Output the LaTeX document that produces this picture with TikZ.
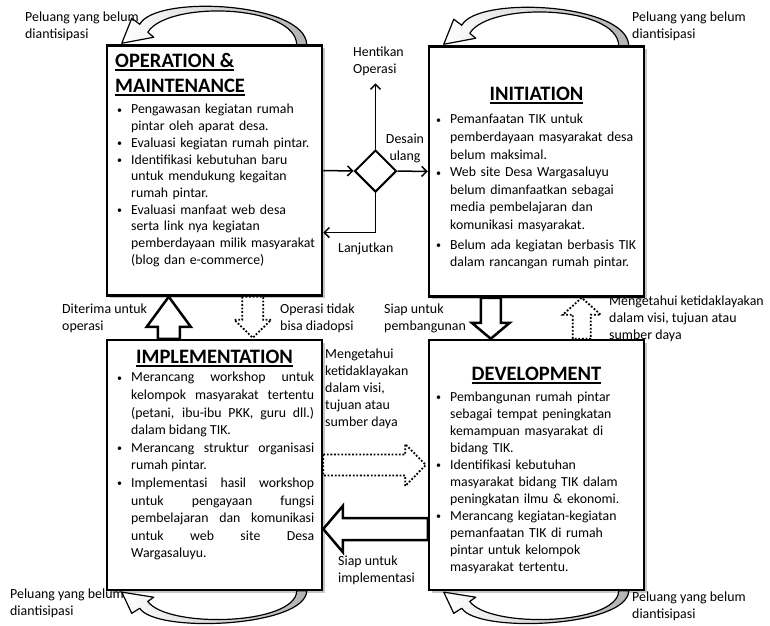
\documentclass[tikz,border=0pt]{standalone}
\usepackage{fontspec}
\setmainfont{Carlito}
\usetikzlibrary{shapes.geometric,shadows,calc,arrows.meta,positioning}

% bullet item with hanging indent
\newcommand{\bul}{\par\noindent\hangindent=14pt\hangafter=1\makebox[14pt][l]{\raisebox{0.6pt}{\fontsize{10}{10}\selectfont\textbullet}}}
% underlined phase title
\newcommand{\titleline}[1]{\begingroup\setbox0=\hbox{#1}\rlap{\rule[-3.5pt]{\wd0}{1.5pt}}\box0\endgroup}

\begin{document}
\begin{tikzpicture}[x=1pt, y=-1pt,
    phase/.style={draw, line width=2.5pt, fill=white, minimum width=215pt, minimum height=250pt,
      drop shadow={shadow xshift=2.5pt, shadow yshift=-2.5pt, opacity=0.45}},
    ttl/.style={font=\fontsize{20.5}{24}\selectfont\bfseries, inner sep=0pt},
    itemlist/.style={text width=200pt, inner sep=0pt, anchor=north west, font=\fontsize{13.8}{17.3}\selectfont},
    lbl/.style={align=left, inner sep=0pt, anchor=north west, font=\fontsize{13.9}{17}\selectfont},
    decision/.style={diamond, draw, line width=2pt, minimum width=42pt, minimum height=42pt, inner sep=0pt, aspect=1},
    flow/.style={line width=1.5pt, -{Straight Barb[length=5pt,width=10pt]}},
    solidblock/.style={draw, line width=2.5pt, fill=white},
    dotblock/.style={draw, line width=1.8pt, dash pattern=on 1.8pt off 1.8pt, fill=white},
    loopband/.style={draw, line width=1.2pt, left color=white, right color=gray!60, line join=round}]

    \useasboundingbox (0,0) rectangle (770,625);

    % Phase boxes
    \node[phase] (om) at (214.5,170.5) {};
    \node[phase] (init) at (536.5,171.5) {};
    \node[phase] (impl) at (214.5,465) {};
    \node[phase] (dev) at (536.5,465) {};

    % Unanticipated opportunities (loops on each box)
    \def\loopback(#1)#2{
        \begin{scope}[shift={(#1)}, yscale=#2]
            \path[loopband] (201,0.5) .. controls (200,-42) and (50,-50) .. (34,-20)
                -- (26,-26) -- (16,-1) -- (48,-7) -- (42,-12)
                .. controls (62,-44) and (190,-40) .. (191,0.5) -- cycle;
        \end{scope}
    }
    \loopback(om.north west){1}
    \loopback(init.north west){1}
    \loopback(impl.south west){-0.85}
    \loopback(dev.south west){-0.85}

    \node[lbl] (oppom) at (25,12) {Peluang yang belum\\diantisipasi};
    \node[lbl] (oppinit) at (632,12) {Peluang yang belum\\diantisipasi};
    \node[lbl] (oppimpl) at (10,589) {Peluang yang belum\\diantisipasi};
    \node[lbl] (oppdev) at (632,592) {Peluang yang belum\\diantisipasi};

    % Box contents
    \node[ttl, anchor=base west] (omtitle) at (115,67) {\titleline{OPERATION \&}};
    \node[ttl, anchor=base west] (omtitleb) at (115,92) {\titleline{MAINTENANCE}};
    \node[itemlist, align=left, font=\fontsize{13.8}{16.7}\selectfont] (omlist) at (117,97) {%
        \bul Pengawasan kegiatan rumah\newline pintar oleh aparat desa.
        \bul Evaluasi kegiatan rumah pintar.
        \bul Identifikasi kebutuhan baru\newline untuk mendukung kegaitan\newline rumah pintar.
        \bul Evaluasi manfaat web desa\newline serta link nya kegiatan\newline pemberdayaan milik masyarakat\newline (blog dan e-commerce)\par};

    \node[ttl, anchor=base] (inittitle) at (536.5,100) {\titleline{INITIATION}};
    \node[itemlist, align=left, font=\fontsize{13.8}{17.6}\selectfont] (initlist) at (436,106) {%
        \bul Pemanfaatan TIK untuk\newline pemberdayaan masyarakat desa\newline belum maksimal.
        \bul Web site Desa Wargasaluyu\newline belum dimanfaatkan sebagai\newline media pembelajaran dan\newline komunikasi masyarakat.
        \vspace{2pt}\bul Belum ada kegiatan berbasis TIK\newline dalam rancangan rumah pintar.\par};

    \node[ttl, anchor=base] (impltitle) at (214.5,363) {\titleline{IMPLEMENTATION}};
    \node[itemlist, text width=197pt, align=justify, font=\fontsize{13.8}{17.6}\selectfont] (impllist) at (117,364) {%
        \bul Merancang workshop untuk\linebreak kelompok masyarakat tertentu\linebreak (petani, ibu-ibu PKK, guru dll.)\linebreak dalam bidang TIK.
        \bul Merancang struktur organisasi\linebreak rumah pintar.
        \bul Implementasi hasil workshop\linebreak untuk pengayaan fungsi\linebreak pembelajaran dan komunikasi\linebreak untuk web site Desa\linebreak Wargasaluyu.\par};

    \node[ttl, anchor=base] (devtitle) at (536.5,380) {\titleline{DEVELOPMENT}};
    \node[itemlist, align=left, font=\fontsize{13.8}{17}\selectfont] (devlist) at (436,384) {%
        \bul Pembangunan rumah pintar\newline sebagai tempat peningkatan\newline kemampuan masyarakat di\newline bidang TIK.
        \bul Identifikasi kebutuhan\newline masyarakat bidang TIK dalam\newline peningkatan ilmu \& ekonomi.
        \bul Merancang kegiatan-kegiatan\newline pemanfaatan TIK di rumah\newline pintar untuk kelompok\newline masyarakat tertentu.\par};

    % Decision between operation and initiation
    \node[decision] (dec) at ($(om.east)!0.5!(init.west)$) {};
    \node[lbl] (stop) at (353,47) {Hentikan\\Operasi};
    \node[lbl, align=center, anchor=north] (redesign) at (405,134) {Desain\\ulang};
    \node[lbl] (goon) at (338,243) {Lanjutkan};

    \draw[flow] (om.east) -- (dec.west);
    \draw[flow] (dec.east) -- (init.west);
    \draw[flow, shorten >=7pt] (dec.north) -- (dec.north |- stop.south);
    \draw[flow] (dec.south) |- ($(om.east)+(0,62)$);

    % Block arrows between phases
    \coordinate (accA) at ($(impl.north west)+(63,0)$);
    \coordinate (accB) at ($(om.south west)+(63,0)$);
    \draw[solidblock] ($(accA)+(-11,0)$) -- ($(accA)+(-11,-12)$) -- ($(accA)+(-22,-12)$) -- (accB)
        -- ($(accA)+(22,-12)$) -- ($(accA)+(11,-12)$) -- ($(accA)+(11,0)$) -- cycle;

    \coordinate (rejA) at ($(om.south west)+(147,0)$);
    \coordinate (rejB) at ($(impl.north west)+(147,-1)$);
    \draw[dotblock] ($(rejA)+(-10.5,0)$) -- ($(rejA)+(-10.5,23)$) -- ($(rejA)+(-18.5,23)$) -- (rejB)
        -- ($(rejA)+(18.5,23)$) -- ($(rejA)+(10.5,23)$) -- ($(rejA)+(10.5,0)$) -- cycle;

    \coordinate (bldA) at ($(init.south west)+(63,0)$);
    \coordinate (bldB) at ($(dev.north west)+(63,0)$);
    \draw[solidblock] ($(bldA)+(-10,0)$) -- ($(bldA)+(-10,25)$) -- ($(bldA)+(-19,25)$) -- (bldB)
        -- ($(bldA)+(19,25)$) -- ($(bldA)+(10,25)$) -- ($(bldA)+(10,0)$) -- cycle;

    \coordinate (infA) at ($(dev.north west)+(154,0)$);
    \coordinate (infB) at ($(init.south west)+(154,0)$);
    \draw[dotblock] ($(infA)+(-9,0)$) -- ($(infA)+(-9,-24)$) -- ($(infA)+(-19,-24)$) -- (infB)
        -- ($(infA)+(19,-24)$) -- ($(infA)+(9,-24)$) -- ($(infA)+(9,0)$) -- cycle;

    \coordinate (rA) at (impl.east);
    \coordinate (rB) at ($(dev.west)+(-2,0)$);
    \draw[dotblock] ($(rA)+(0,-10.5)$) -- ($(rA)+(82,-10.5)$) -- ($(rA)+(82,-21)$) -- (rB)
        -- ($(rA)+(82,21)$) -- ($(rA)+(82,10.5)$) -- ($(rA)+(0,10.5)$) -- cycle;

    \coordinate (lA) at ($(dev.west)+(0,64)$);
    \coordinate (lB) at ($(impl.east)+(0,64)$);
    \draw[solidblock] ($(lA)+(0,-11)$) -- ($(lA)+(-85,-11)$) -- ($(lA)+(-85,-23)$) -- (lB)
        -- ($(lA)+(-85,23)$) -- ($(lA)+(-85,11)$) -- ($(lA)+(0,11)$) -- cycle;

    % Arrow labels
    \node[lbl] (acclbl) at (62,304) {Diterima untuk\\operasi};
    \node[lbl] (rejlbl) at (280,304) {Operasi tidak\\bisa diadopsi};
    \node[lbl] (bldlbl) at (384,304) {Siap untuk\\pembangunan};
    \node[lbl] (inflbl) at (609,296) {Mengetahui ketidaklayakan\\dalam visi, tujuan atau\\sumber daya};
    \node[lbl] (midlbl) at (325,349) {Mengetahui\\ketidaklayakan\\dalam visi,\\tujuan atau\\sumber daya};
    \node[lbl] (readylbl) at (338,556) {Siap untuk\\implementasi};

\end{tikzpicture}
\end{document}
